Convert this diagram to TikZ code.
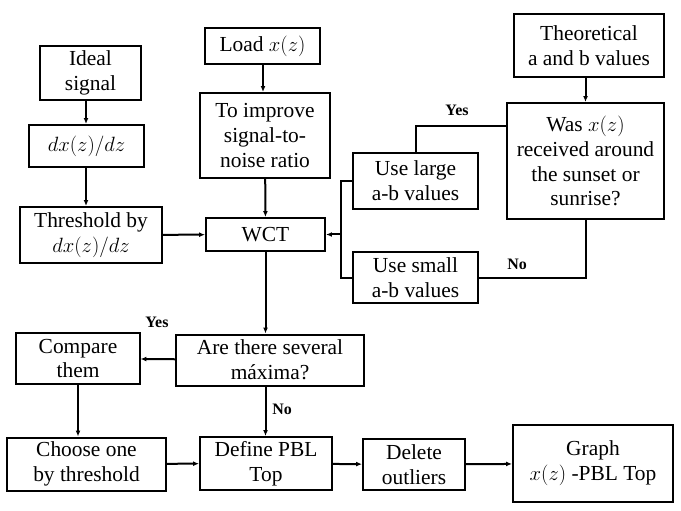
\documentclass[tikz,border=0pt]{standalone}
\usepackage{fontspec}
\setmainfont{Liberation Serif}
\usetikzlibrary{arrows.meta}
\begin{document}
\begin{tikzpicture}[x=1bp, y=-1bp,
  box/.style={draw, line width=2bp, align=center, inner sep=0pt,
    font=\fontsize{21.5}{25}\selectfont},
  link/.style={line width=2bp, -{Latex[length=6pt,width=5pt]}},
  wire/.style={line width=2bp},
  tag/.style={font=\fontsize{16}{18}\selectfont\bfseries}]
\useasboundingbox (0,0) rectangle (681,511);
% Left column
\node[box, minimum width=101bp, minimum height=54bp] (ideal) at (90.5,73) {Ideal\\signal};
\node[box, minimum width=115bp, minimum height=42bp] (deriv) at (86.5,146) {$dx(z)/dz$};
\node[box, minimum width=142bp, minimum height=56bp] (thresh) at (91,235) {Threshold by\\$dx(z)/dz$};
% Middle column
\node[box, minimum width=115bp, minimum height=36bp] (load) at (262.5,46) {Load $x(z)$};
\node[box, minimum width=130bp, minimum height=85bp] (snr) at (265,135.5) {To improve\\signal-to-\\noise ratio};
\node[box, minimum width=119bp, minimum height=33bp] (wct) at (265.5,234.5) {WCT};
% Right column
\node[box, minimum width=150bp, minimum height=63bp] (theory) at (589,45.5) {Theoretical\\a and b values};
\node[box, minimum width=157bp, minimum height=116bp] (sunset) at (585.5,161) {Was $x(z)$\\received around\\the sunset or\\sunrise?};
\node[box, minimum width=125bp, minimum height=56bp] (large) at (415.5,181) {Use large\\a-b values};
\node[box, minimum width=125bp, minimum height=51bp] (small) at (415.5,277.5) {Use small\\a-b values};
% Bottom part
\node[box, minimum width=188bp, minimum height=51bp] (maxima) at (270,360) {Are there several\\máxima?};
\node[box, minimum width=123bp, minimum height=51bp] (compare) at (78,358.5) {Compare\\them};
\node[box, minimum width=159bp, minimum height=53bp] (choose) at (86.5,464) {Choose one\\by threshold};
\node[box, minimum width=132bp, minimum height=53bp] (define) at (266,463.5) {Define PBL\\Top};
\node[box, minimum width=102bp, minimum height=51bp] (delete) at (414,464.5) {Delete\\outliers};
\node[box, minimum width=160bp, minimum height=77bp] (graph) at (593,463.5) {Graph\\$x(z)$ -PBL Top};
% Connectors
\draw[link] (ideal.south -| 86,0) -- (deriv.north -| 86,0);
\draw[link] (deriv.south -| 86,0) -- (thresh.north -| 86,0);
\draw[link] (thresh) -- (wct);
\draw[link] (load.south -| 263,0) -- (snr.north -| 263,0);
\draw[link] (snr) -- (wct);
\draw[link] (theory.south -| sunset.north) -- (sunset);
\coordinate (bend) at (341,234.5);
\draw[wire] (sunset.west |- 0,126) -| (large.north);
\draw[wire] (sunset.south) |- (small.east);
\draw[wire] (large.west) -| (bend) |- (small.west);
\draw[link] (bend) -- (wct);
\draw[link] (wct) -- (maxima.north -| wct);
\draw[link] (maxima) -- (compare);
\draw[link] (compare.south -| 78,0) -- (choose.north -| 78,0);
\draw[link] (choose) -- (define);
\draw[link] (maxima.south -| wct) -- (define.north -| wct);
\draw[link] (define) -- (delete);
\draw[link] (delete) -- (graph);
% Labels
\node[tag] (yes1) at (457,110) {Yes};
\node[tag] (no1) at (517,264) {No};
\node[tag] (yes2) at (157,322) {Yes};
\node[tag] (no2) at (282,409) {No};
\end{tikzpicture}
\end{document}
